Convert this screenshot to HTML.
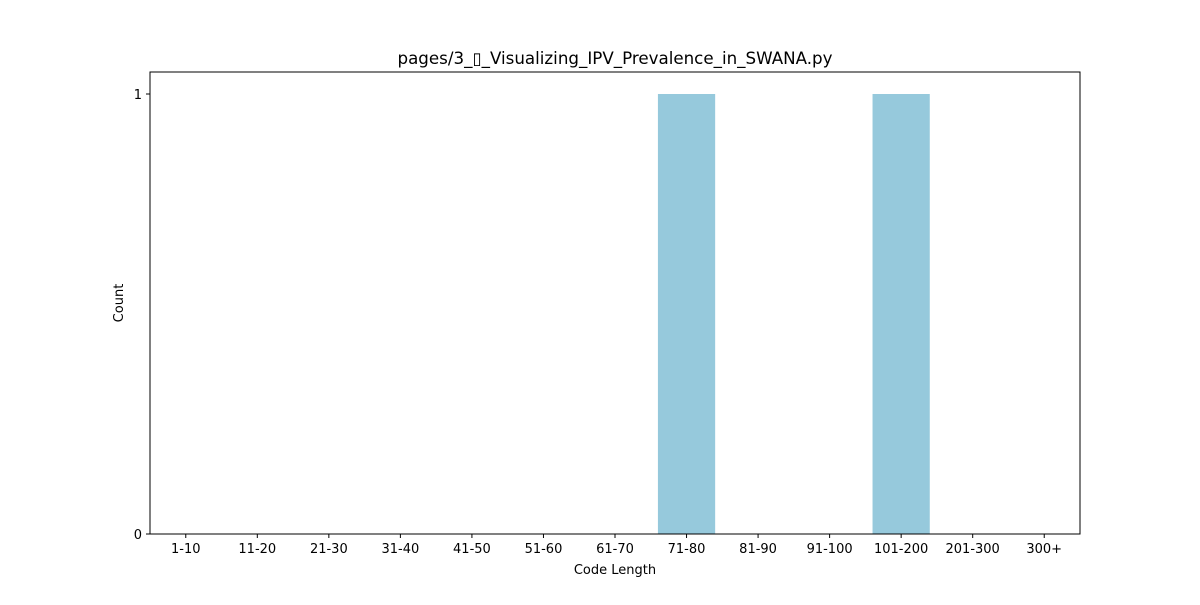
<!DOCTYPE html>
<html><head><meta charset="utf-8"><style>
body{margin:0;background:#fff;}
svg text{font-family:"DejaVu Sans","Liberation Sans",sans-serif;fill:#000;}
</style></head><body>
<svg id="chart" width="1200" height="600">
<text x="615" y="64" font-size="16.7" text-anchor="middle">pages/3_▯_Visualizing_IPV_Prevalence_in_SWANA.py</text>
<g id="bars"></g>
<rect x="150" y="72" width="930" height="462" fill="none" stroke="#000" stroke-width="1"/>
<g id="xticks"></g><g id="yticks"></g>
<text x="615" y="574" font-size="13" text-anchor="middle">Code Length</text>
<text x="123" y="303" font-size="13" text-anchor="middle" transform="rotate(-90 123 303)">Count</text>
</svg>
<script>
const categories=["1-10","11-20","21-30","31-40","41-50","51-60","61-70","71-80","81-90","91-100","101-200","201-300","300+"];
const counts=[0,0,0,0,0,0,0,1,0,0,1,0,0];
const yTicks=[0,1];
const ns="http://www.w3.org/2000/svg";
const L=150,R=1080,T=72,B=534,yMax=1.05;
const step=(R-L)/categories.length;
const xs=i=>L+(i+0.5)*step;
const ys=v=>B-(v/yMax)*(B-T);
const bars=document.getElementById('bars'),xt=document.getElementById('xticks'),yt=document.getElementById('yticks');
function mk(t,a){const e=document.createElementNS(ns,t);for(const k in a)e.setAttribute(k,a[k]);return e;}
categories.forEach((c,i)=>{
  const w=step*0.8,v=counts[i];
  const r=mk('rect',{x:xs(i)-w/2,y:ys(v),width:w,height:B-ys(v),fill:'#96c9dc'});
  
  
  bars.appendChild(r);
  const tk=mk('line',{x1:xs(i),x2:xs(i),y1:B,y2:B+4,stroke:'#000'});
  
  
  xt.appendChild(tk);
  const tx=mk('text',{x:xs(i),y:B+19,'font-size':13,'text-anchor':'middle'});
  tx.textContent=c;
  
  
  xt.appendChild(tx);
});
yTicks.forEach(v=>{
  const tk=mk('line',{x1:L-4,x2:L,y1:ys(v),y2:ys(v),stroke:'#000'});
  
  
  yt.appendChild(tk);
  const tx=mk('text',{x:L-8,y:ys(v)+5,'font-size':13,'text-anchor':'end'});
  tx.textContent=v;
  
  
  yt.appendChild(tx);
});
</script>
</body></html>
